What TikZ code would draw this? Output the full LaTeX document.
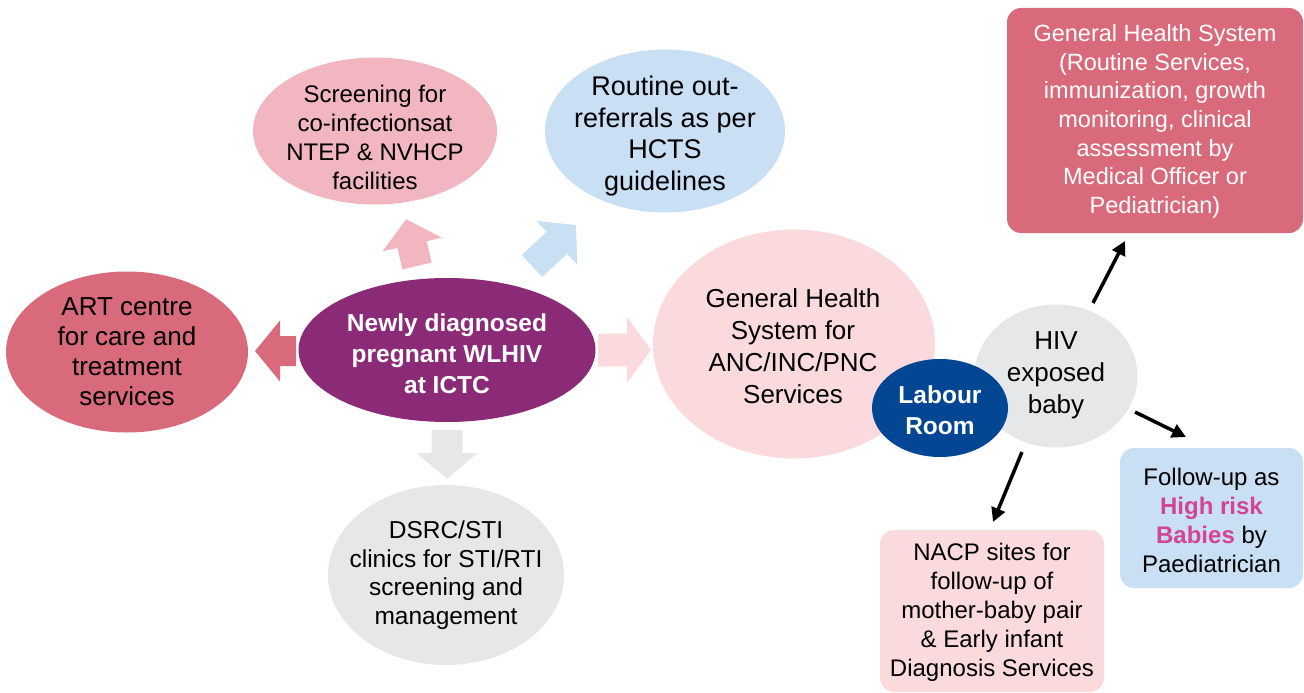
\documentclass[tikz,border=0pt]{standalone}
\usepackage{fontspec}
\setmainfont{Liberation Sans}
\usetikzlibrary{shapes.geometric,arrows.meta}
\definecolor{rose}{HTML}{D96A7B}
\definecolor{plum}{HTML}{8B2A76}
\definecolor{pinkA}{HTML}{F2B6C0}
\definecolor{skyA}{HTML}{C8DFF4}
\definecolor{paleP}{HTML}{FADADD}
\definecolor{greyA}{HTML}{E6E7E9}
\definecolor{navy}{HTML}{034693}
\definecolor{hot}{HTML}{D4448F}
\newcommand\blockarr[7]{%
  \fill[#1,shift={(#2)},rotate=#3] (0,-#5) -- ({#4-#7},-#5) -- ({#4-#7},-#6) -- (#4,0)
    -- ({#4-#7},#6) -- ({#4-#7},#5) -- (0,#5) -- cycle;}
\begin{document}
\begin{tikzpicture}[x=1pt,y=-1pt,
  blob/.style={ellipse, inner sep=0pt, draw=none},
  card/.style={rounded corners=14pt, inner sep=0pt, draw=none},
  txt/.style={align=center, inner sep=0pt},
  conn/.style={line width=3.5pt, -{Triangle[length=14pt,width=14pt]}}]
\useasboundingbox (0,0) rectangle (1304,693);

% block arrows
\blockarr{rose}{296,351}{180}{41}{15}{30.5}{25}
\blockarr{paleP}{598,350}{0}{53}{16.5}{33}{24}
\blockarr{greyA}{447,430}{-90}{49}{15.5}{30.5}{26}
\blockarr{pinkA}{417,266}{103}{48}{15}{30.5}{26}
\blockarr{skyA}{532,266}{43}{60}{15}{30}{26}

% shapes
\node[blob, fill=rose, minimum width=242pt, minimum height=161pt] (art) at (127,352) {};
\node[blob, fill=plum, minimum width=297pt, minimum height=144pt] (ictc) at (447,350) {};
\node[blob, fill=pinkA, minimum width=244pt, minimum height=147pt] (scr) at (375,131) {};
\node[blob, fill=skyA, minimum width=240pt, minimum height=163pt] (rout) at (665,131) {};
\node[blob, fill=paleP, minimum width=282pt, minimum height=229pt] (ghs) at (794,344) {};
\node[blob, fill=greyA, minimum width=163pt, minimum height=143pt] (hiv) at (1056,376) {};
\node[blob, fill=navy, minimum width=136pt, minimum height=98pt] (lab) at (940,408) {};
\node[blob, fill=greyA, minimum width=236pt, minimum height=180pt] (dsrc) at (446,575) {};
\node[card, fill=rose, minimum width=296pt, minimum height=225pt] (gtop) at (1155,120.5) {};
\node[card, fill=paleP, minimum width=224pt, minimum height=162pt] (nacp) at (992,611) {};
\node[card, fill=skyA, minimum width=183pt, minimum height=140pt] (fol) at (1211.5,518) {};

% texts
\node[txt, font=\fontsize{26}{30}\selectfont] (art-t) at (127,352)
  {ART centre\\for care and\\treatment\\services};
\node[txt, text=white, font=\bfseries\fontsize{24.5}{31}\selectfont] (ictc-t) at (447,354)
  {Newly diagnosed\\pregnant WLHIV\\at ICTC};
\node[txt, font=\fontsize{24}{29}\selectfont] (scr-t) at (375,137)
  {Screening for\\co-infectionsat\\NTEP \& NVHCP\\facilities};
\node[txt, font=\fontsize{27}{31.5}\selectfont] (rout-t) at (665,136)
  {Routine out-\\referrals as per\\HCTS\\guidelines};
\node[txt, font=\fontsize{26}{32}\selectfont] (ghs-t) at (793,346)
  {General Health\\System for\\ANC/INC/PNC\\Services};
\node[txt, font=\fontsize{26}{32}\selectfont] (hiv-t) at (1056,375)
  {HIV\\exposed\\baby};
\node[txt, text=white, font=\bfseries\fontsize{24.5}{31}\selectfont] (lab-t) at (940,410)
  {Labour\\Room};
\node[txt, font=\fontsize{24.5}{28.5}\selectfont] (dsrc-t) at (446,575)
  {DSRC/STI\\clinics for STI/RTI\\screening and\\management};
\node[txt, text=white, font=\fontsize{23.5}{28.7}\selectfont] (gtop-t) at (1155,121.5)
  {General Health System\\(Routine Services,\\immunization, growth\\monitoring, clinical\\assessment by\\Medical Officer or\\Pediatrician)};
\node[txt, font=\fontsize{24}{29}\selectfont] (nacp-t) at (992,612)
  {NACP sites for\\follow-up of\\mother-baby pair\\\& Early infant\\Diagnosis Services};
\node[txt, font=\fontsize{24}{29}\selectfont] (fol-t) at (1211.5,520)
  {Follow-up as\\{\color{hot}\bfseries High risk}\\{\color{hot}\bfseries Babies} by\\Paediatrician};

% connectors
\coordinate (c1a) at (1093,303); \coordinate (c1b) at (1125,241);
\coordinate (c2a) at (1135,412); \coordinate (c2b) at (1186,437);
\coordinate (c3a) at (1022,452); \coordinate (c3b) at (993,522);
\draw[conn] (c1a) -- (c1b);
\draw[conn] (c2a) -- (c2b);
\draw[conn] (c3a) -- (c3b);
\end{tikzpicture}
\end{document}
